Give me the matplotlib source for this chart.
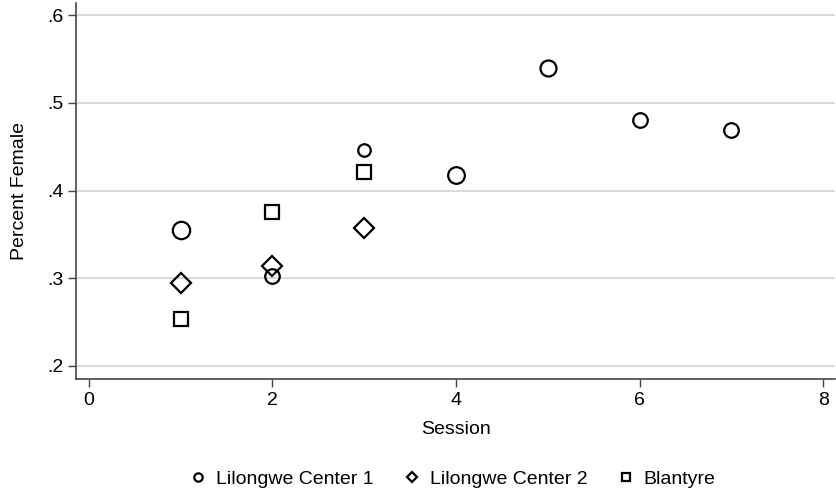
import matplotlib.pyplot as plt
from matplotlib.lines import Line2D

plt.rcParams.update(
    {
        "font.family": ["Liberation Sans", "DejaVu Sans"],
        "font.size": 14,
    }
)

# Share of female participants by session and site
lc1_session = [1, 2, 3, 4, 5, 6, 7]
lc1_female = [0.355, 0.302, 0.446, 0.418, 0.540, 0.480, 0.469]

lc2_session = [1, 2, 3]
lc2_female = [0.295, 0.314, 0.357]

bl_session = [1, 2, 3]
bl_female = [0.254, 0.376, 0.421]

# Circle sizes (pt) for Lilongwe Center 1, by session
lc1_ms = [12.5, 10.5, 9.0, 12.0, 11.5, 10.5, 10.5]

fig = plt.figure(figsize=(8.36, 4.98), dpi=100)
ax = fig.add_axes([76 / 836, 1 - 379 / 498, 759 / 836, 376 / 498])

ax.set_xlim(-0.14, 8.13)
ax.set_ylim(0.185, 0.614)
ax.set_yticks([0.2, 0.3, 0.4, 0.5, 0.6])
ax.set_yticklabels([".2", ".3", ".4", ".5", ".6"])
ax.set_xticks([0, 2, 4, 6, 8])

ax.grid(axis="y", color="#d4d4d4", linewidth=1.2)
ax.set_axisbelow(True)
for s in ["top", "right"]:
    ax.spines[s].set_visible(False)
for s in ["left", "bottom"]:
    ax.spines[s].set_color("#444444")
    ax.spines[s].set_linewidth(1.2)
ax.tick_params(direction="out", length=6, width=1, color="#444444", labelsize=14, pad=3)

mk = dict(linestyle="none", markerfacecolor="none", markeredgecolor="black", markeredgewidth=1.6)
for x, y, ms in zip(lc1_session, lc1_female, lc1_ms):
    ax.plot(x, y, marker="o", markersize=ms, **mk)
ax.plot(lc2_session, lc2_female, marker="D", markersize=10.2, **mk)
ax.plot(bl_session, bl_female, marker="s", markersize=10, **mk)

ax.set_xlabel("Session", fontsize=14, labelpad=9)
ax.set_ylabel("Percent Female", fontsize=14, labelpad=14)

handles = [
    Line2D([], [], marker="o", markersize=6, **mk),
    Line2D([], [], marker="D", markersize=5.5, **mk),
    Line2D([], [], marker="s", markersize=6, **mk),
]
fig.legend(
    handles,
    ["Lilongwe Center 1", "Lilongwe Center 2", "Blantyre"],
    loc="center",
    bbox_to_anchor=(453 / 836, 1 - 479 / 498),
    ncol=3,
    frameon=False,
    fontsize=14,
    handlelength=0.8,
    handletextpad=0.5,
    columnspacing=1.6,
)

fig.savefig("out.png", dpi=100)
